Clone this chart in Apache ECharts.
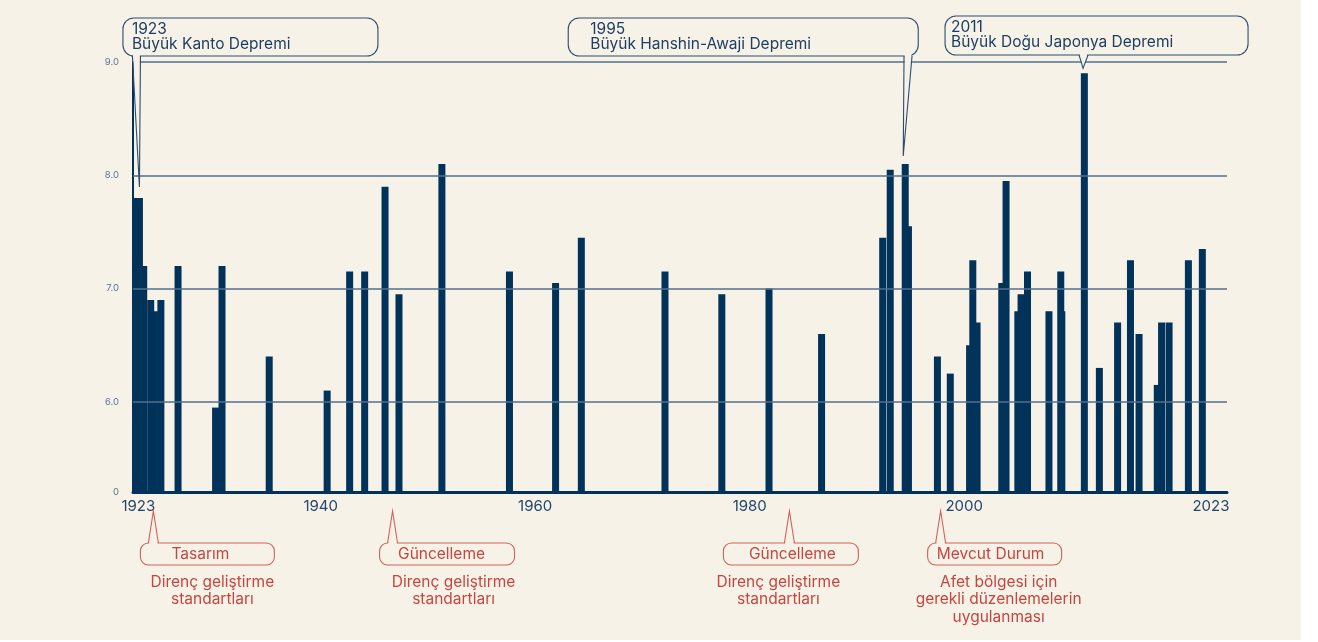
<!DOCTYPE html>
<html><head><meta charset="utf-8">
<script src="https://cdn.jsdelivr.net/npm/echarts@6.0.0/dist/echarts.min.js"></script>
<style>
html,body{margin:0;padding:0;background:#ffffff;}
#c{width:1301px;height:640px;background:#f7f2e8;}
</style></head><body><div id="c"></div>
<script>
// ---------- DATA ----------
const years = [1922.9, 1923.1, 1923.5, 1924.15, 1924.5, 1925.1, 1926.7, 1930.2, 1930.8, 1935.2,
  1940.6, 1942.7, 1944.1, 1946.0, 1947.3, 1951.3, 1957.6, 1961.9, 1964.3, 1972.1,
  1977.4, 1981.8, 1986.7, 1992.4, 1993.1, 1994.5, 1994.8, 1997.5, 1998.7, 2000.5,
  2000.8, 2001.2, 2003.5, 2003.9, 2005.0, 2005.3, 2005.9, 2007.9, 2009.0, 2009.1,
  2011.2, 2012.6, 2014.3, 2015.5, 2016.3, 2018.0, 2018.4, 2019.1, 2020.9, 2022.2];
const magnitudes = [7.8, 7.8, 7.2, 6.9, 6.8, 6.9, 7.2, 5.95, 7.2, 6.4,
  6.1, 7.15, 7.15, 7.9, 6.95, 8.1, 7.15, 7.05, 7.45, 7.15,
  6.95, 7.0, 6.6, 7.45, 8.05, 8.1, 7.55, 6.4, 6.25, 6.5,
  7.25, 6.7, 7.05, 7.95, 6.8, 6.95, 7.15, 6.8, 7.15, 6.8,
  8.9, 6.3, 6.7, 7.25, 6.6, 6.15, 6.7, 6.7, 7.25, 7.35];
const xTickValues = [1923, 1940, 1960, 1980, 2000, 2023];
const xTickLabels = ['1923', '1940', '1960', '1980', '2000', '2023'];
const yTickValues = [0, 6, 7, 8, 9];
const yTickLabels = ['0', '6.0', '7.0', '8.0', '9.0'];
const gridValues = [6, 7, 8, 9];
const quakeIndex = [1, 25, 40];
const quakeTitles = ['1923', '1995', '2011'];
const quakeNames = ['Büyük Kanto Depremi', 'Büyük Hanshin-Awaji Depremi', 'Büyük Doğu Japonya Depremi'];
const policyYears = [1924.4, 1946.7, 1983.7, 1997.8];
const policyTitles = ['Tasarım', 'Güncelleme', 'Güncelleme', 'Mevcut Durum'];
const policyTexts = [
  ['Direnç geliştirme', 'standartları'],
  ['Direnç geliştirme', 'standartları'],
  ['Direnç geliştirme', 'standartları'],
  ['Afet bölgesi için', 'gerekli düzenlemelerin', 'uygulanması']
];

// ---------- STYLE / LAYOUT ----------
const NAVY = '#00325a';
const GRID = '#536f8d';
const TXT = '#23466a';
const RED = '#c4473f';
const REDLINE = '#cf6258';
const BG = '#f7f2e8';
const FONT = 'Inter, Lato, sans-serif';
const FS = 15.5;
const quakeLayout = [
  {tipDx: 0, gap: 11, base: [-7, 1], boxDx: -16.5, boxW: 255, boxTop: 18, boxH: 38, textDx: 9},
  {tipDx: -2, gap: 8, base: [-1.2, 6.8], boxDx: -337, boxW: 350, boxTop: 18, boxH: 38, textDx: 22},
  {tipDx: -1.3, gap: 5, base: [-5.3, 3.7], boxDx: -139.3, boxW: 303, boxTop: 16, boxH: 39, textDx: 6}
];
const policyLayout = [
  {boxDx: -13, boxW: 134, titleDx: 47, descDx: 59},
  {boxDx: -13, boxW: 135, titleDx: 49, descDx: 61},
  {boxDx: -66, boxW: 135, titleDx: 3, descDx: -11},
  {boxDx: -13, boxW: 134, titleDx: 50, descDx: 58}
];

const chart = echarts.init(document.getElementById('c'), null, {renderer: 'canvas'});
const barData = years.map((y, i) => [y, magnitudes[i]]);

chart.setOption({
  animation: false,
  backgroundColor: BG,
  grid: {left: 133, right: 74, top: 62, bottom: 148, containLabel: false},
  xAxis: {
    type: 'value', min: 1922.5, max: 2024.5,
    axisLine: {show: true, onZero: false, lineStyle: {color: NAVY, width: 3}},
    axisTick: {show: false},
    splitLine: {show: false},
    axisLabel: {
      customValues: xTickValues,
      formatter: v => { const i = xTickValues.indexOf(v); return i >= 0 ? xTickLabels[i] : ''; },
      color: TXT, fontSize: 15, fontFamily: FONT, margin: 7
    }
  },
  yAxis: {
    type: 'value', min: 0, max: 9, interval: 1,
    breaks: [{start: 0.1, end: 5.305, gap: 0}],
    breakArea: {show: false, itemStyle: {opacity: 0, borderWidth: 0}, zigzagAmplitude: 0},
    axisLine: {show: true, lineStyle: {color: NAVY, width: 2}},
    axisTick: {show: false},
    splitLine: {show: false},
    axisLabel: {
      customValues: yTickValues,
      formatter: v => { const i = yTickValues.indexOf(Math.round(v * 1000) / 1000); return i >= 0 ? yTickLabels[i] : ''; },
      color: '#5a7391', fontSize: 9.5, fontFamily: FONT, margin: 14
    }
  },
  series: [
    {
      type: 'line', data: [], z: 1, silent: true,
      markLine: {
        silent: true, symbol: 'none', label: {show: false},
        lineStyle: {color: GRID, width: 1.5, type: 'solid'},
        data: gridValues.map(v => ({yAxis: v}))
      }
    },
    {
      type: 'bar', data: barData, barWidth: 7, z: 2,
      itemStyle: {color: NAVY}
    }
  ]
});

// ---------- annotations, placed through the chart's own scales ----------
const g = [];
const px = (x, y) => chart.convertToPixel({gridIndex: 0}, [x, y]);

quakeIndex.forEach((di, k) => {
  const L = quakeLayout[k];
  const p = px(years[di], magnitudes[di]);
  const bx = p[0];
  const tip = [bx + L.tipDx, p[1] - L.gap];
  const by = L.boxTop + L.boxH;
  const x1 = bx + L.base[0], x2 = bx + L.base[1];
  const left = bx + L.boxDx;
  g.push({type: 'rect', shape: {x: left, y: L.boxTop, width: L.boxW, height: L.boxH, r: 11},
    style: {fill: BG, stroke: '#2d4c6d', lineWidth: 1.1}, z: 10});
  g.push({type: 'polygon', shape: {points: [[x1 + 0.6, by - 1.5], tip, [x2 - 0.6, by - 1.5]]},
    style: {fill: BG, stroke: null}, z: 11});
  g.push({type: 'polyline', shape: {points: [[x1, by], tip, [x2, by]]},
    style: {fill: null, stroke: '#2d4c6d', lineWidth: 1.1}, z: 12});
  g.push({type: 'text', x: left + L.textDx, y: L.boxTop + 11, z: 13,
    style: {text: quakeTitles[k], fill: '#1f3f62', font: FS + 'px ' + FONT, verticalAlign: 'middle'}});
  g.push({type: 'text', x: left + L.textDx, y: L.boxTop + 26, z: 13,
    style: {text: quakeNames[k], fill: '#1f3f62', font: FS + 'px ' + FONT, verticalAlign: 'middle'}});
});

policyYears.forEach((yr, k) => {
  const L = policyLayout[k];
  const p = px(yr, 0);
  const tx = p[0];
  const tip = [tx, p[1] + 19];
  const top = p[1] + 51;
  const left = tx + L.boxDx;
  g.push({type: 'rect', shape: {x: left, y: top, width: L.boxW, height: 22, r: 8},
    style: {fill: BG, stroke: REDLINE, lineWidth: 1.1}, z: 10});
  g.push({type: 'polygon', shape: {points: [[tx - 4.4, top + 1.5], tip, [tx + 4.4, top + 1.5]]},
    style: {fill: BG, stroke: null}, z: 11});
  g.push({type: 'polyline', shape: {points: [[tx - 5, top], tip, [tx + 5, top]]},
    style: {fill: null, stroke: REDLINE, lineWidth: 1.1}, z: 12});
  g.push({type: 'text', x: tx + L.titleDx, y: top + 11, z: 13,
    style: {text: policyTitles[k], fill: RED, font: FS + 'px ' + FONT, align: 'center', verticalAlign: 'middle'}});
  policyTexts[k].forEach((line, j) => {
    g.push({type: 'text', x: tx + L.descDx, y: top + 39 + j * 17.5, z: 13,
      style: {text: line, fill: RED, font: FS + 'px ' + FONT, align: 'center', verticalAlign: 'middle'}});
  });
});

chart.setOption({graphic: {elements: g}});
</script></body></html>
